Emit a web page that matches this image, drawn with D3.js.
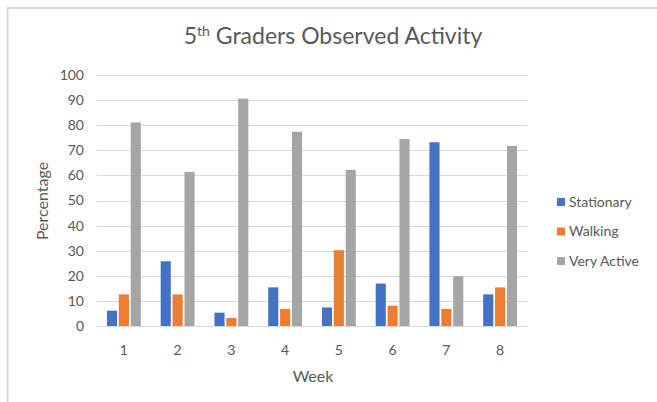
<!DOCTYPE html>
<html>
<head>
<meta charset="utf-8">
<script src="https://cdn.jsdelivr.net/npm/d3@7"></script>
<style>
  body { margin: 0; background: #fff; }
  text { font-family: Lato, "Open Sans", sans-serif; fill: #595959; }
</style>
</head>
<body>
<svg id="chart" width="657" height="402"></svg>
<script>
// values
var weeks = ["1", "2", "3", "4", "5", "6", "7", "8"];
var seriesNames = ["Stationary", "Walking", "Very Active"];
var stationary = [6.1, 25.8, 5.3, 15.4, 7.4, 16.9, 73.2, 12.6];
var walking = [12.6, 12.6, 3.2, 6.8, 30.2, 8.1, 6.8, 15.4];
var veryActive = [81.1, 61.4, 90.6, 77.4, 62.2, 74.5, 19.8, 71.7];
var yTicks = [0, 10, 20, 30, 40, 50, 60, 70, 80, 90, 100];
var colors = ["#4472C4", "#ED7D31", "#A5A5A5"];

var series = [stationary, walking, veryActive];

var svg = d3.select("#chart");

// outer frame
svg.append("rect")
    .attr("x", 7.5).attr("y", 8)
    .attr("width", 660).attr("height", 400)
    .attr("fill", "none")
    .attr("stroke", "#d9d9d9")
    .attr("stroke-width", 2);

var plotLeft = 97, plotRight = 527, plotTop = 75, plotBottom = 326;

var y = d3.scaleLinear().domain([0, 100]).range([plotBottom, plotTop]);
var x0 = d3.scaleBand().domain(weeks).range([plotLeft, plotRight])
    .paddingInner(0.37).paddingOuter(0.185);
var x1 = d3.scaleBand().domain(d3.range(3)).range([0, x0.bandwidth()])
    .paddingInner(0.15);

// gridlines
svg.append("g")
    .selectAll("line")
    .data(yTicks)
    .join("line")
    .attr("x1", plotLeft).attr("x2", plotRight)
    .attr("y1", function(d){ return Math.round(y(d)) + 0.5; })
    .attr("y2", function(d){ return Math.round(y(d)) + 0.5; })
    .attr("stroke", "#d9d9d9")
    .attr("stroke-width", 1);

// y tick labels
svg.append("g")
    .selectAll("text")
    .data(yTicks)
    .join("text")
    .attr("x", 84)
    .attr("y", function(d){ return y(d); })
    .attr("dy", "0.35em")
    .attr("text-anchor", "end")
    .style("font-size", "14px")
    .text(function(d){ return d; });

// bars
var groups = svg.append("g")
    .selectAll("g")
    .data(weeks)
    .join("g")
    .attr("transform", function(d){ return "translate(" + x0(d) + ",0)"; });

groups.selectAll("rect")
    .data(function(d, i){ return series.map(function(s, k){ return {k: k, v: s[i]}; }); })
    .join("rect")
    .attr("x", function(d){ return x1(d.k); })
    .attr("width", x1.bandwidth())
    .attr("y", function(d){ return y(d.v); })
    .attr("height", function(d){ return plotBottom - y(d.v); })
    .attr("fill", function(d){ return colors[d.k]; });

// x tick labels
svg.append("g")
    .selectAll("text")
    .data(weeks)
    .join("text")
    .attr("x", function(d){ return x0(d) + x0.bandwidth() / 2; })
    .attr("y", 355)
    .attr("text-anchor", "middle")
    .style("font-size", "14px")
    .text(function(d){ return d; });

// axis titles
svg.append("text")
    .attr("x", 313).attr("y", 382)
    .attr("text-anchor", "middle")
    .style("font-size", "16px")
    .text("Week");

svg.append("text")
    .attr("transform", "translate(48,201) rotate(-90)")
    .attr("text-anchor", "middle")
    .style("font-size", "16px")
    .text("Percentage");

// title
var title = svg.append("text")
    .attr("x", 333).attr("y", 44)
    .attr("text-anchor", "middle")
    .style("font-size", "23px");
title.append("tspan").text("5");
title.append("tspan").attr("dy", -8).style("font-size", "14px").text("th");
title.append("tspan").attr("dy", 8).text(" Graders Observed Activity");

// legend
var legend = svg.append("g")
    .selectAll("g")
    .data(seriesNames)
    .join("g")
    .attr("transform", function(d, i){ return "translate(557," + (202 + i * 29.5) + ")"; });

legend.append("rect")
    .attr("x", 0).attr("y", -4)
    .attr("width", 8).attr("height", 8)
    .attr("fill", function(d, i){ return colors[i]; });

legend.append("text")
    .attr("x", 12).attr("dy", "0.35em")
    .style("font-size", "14px")
    .text(function(d){ return d; });
</script>
</body>
</html>
